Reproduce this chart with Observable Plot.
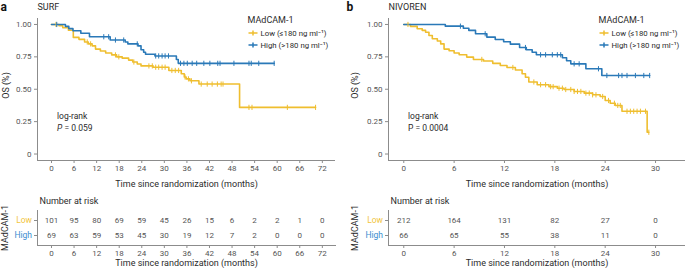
<!DOCTYPE html>
<html><head><meta charset="utf-8">
<script src="https://cdn.jsdelivr.net/npm/d3@7"></script>
<script src="https://cdn.jsdelivr.net/npm/@observablehq/plot@0.6"></script>
<style>
body{margin:0;background:#fff;}
#chart{position:relative;width:685px;height:271px;overflow:hidden;}
#chart svg{position:absolute;overflow:visible;}
</style></head><body><div id="chart"></div>
<script>
// ---------- SURF (panel a) ----------
const surfLowT = [0, 2.0, 3.0, 4.5, 5.8, 7.3, 8.8, 9.8, 10.8, 11.7, 13.0, 14.4, 16.0, 17.3, 18.8, 20.5, 21.6, 22.8, 23.8, 27.0, 31.2, 34.5, 35.3, 35.8, 36.8, 39.2, 50.0];
const surfLowS = [1, 0.99, 0.975, 0.955, 0.90, 0.885, 0.865, 0.85, 0.835, 0.81, 0.795, 0.78, 0.765, 0.75, 0.74, 0.725, 0.71, 0.695, 0.68, 0.67, 0.645, 0.62, 0.595, 0.58, 0.565, 0.54, 0.36];
const surfLowEnd = 70.2;
const surfLowCens = [1.2, 9.5, 10.4, 17.0, 17.9, 21.9, 25.9, 26.8, 27.7, 28.5, 29.4, 30.2, 32.0, 32.9, 33.8, 35.5, 36.4, 37.2, 39.8, 41.4, 42.7, 44.1, 45.1, 45.6, 52.5, 53.3, 62.7, 70.2];
const surfHighT = [0, 3.7, 4.6, 5.7, 7.8, 10.1, 15.6, 19.6, 20.3, 23.0, 23.8, 24.5, 25.0, 27.5, 33.2, 33.7];
const surfHighS = [1, 0.985, 0.968, 0.952, 0.932, 0.905, 0.88, 0.865, 0.85, 0.835, 0.805, 0.785, 0.77, 0.757, 0.73, 0.70];
const surfHighEnd = 59.2;
const surfHighCens = [1.4, 13.9, 15.2, 17.0, 19.2, 22.8, 27.7, 28.5, 29.4, 30.2, 31.1, 34.3, 35.2, 36.1, 37.4, 38.6, 40.5, 42.1, 44.2, 44.8, 48.5, 52.5, 53.1, 55.1, 59.2];
const surfTicks = [0, 6, 12, 18, 24, 30, 36, 42, 48, 54, 60, 66, 72];
const surfRiskLow = [101, 95, 80, 69, 59, 45, 26, 15, 6, 2, 2, 1, 0];
const surfRiskHigh = [69, 63, 59, 53, 45, 30, 19, 12, 7, 2, 0, 0, 0];

// ---------- NIVOREN (panel b) ----------
const nivLowT = [0, 0.8, 1.6, 2.2, 2.6, 3.0, 3.4, 4.0, 4.4, 4.8, 5.4, 6.0, 6.6, 7.5, 8.3, 9.5, 10.6, 11.5, 12.3, 13.3, 14.1, 14.5, 14.9, 15.9, 17.3, 18.3, 19.1, 20.3, 21.5, 22.5, 23.4, 24.0, 24.6, 25.2, 26.0, 29.0];
const nivLowS = [1, 0.985, 0.967, 0.954, 0.94, 0.915, 0.89, 0.872, 0.85, 0.81, 0.797, 0.78, 0.766, 0.748, 0.73, 0.718, 0.70, 0.683, 0.668, 0.648, 0.62, 0.593, 0.556, 0.535, 0.52, 0.508, 0.498, 0.483, 0.47, 0.457, 0.444, 0.413, 0.392, 0.375, 0.33, 0.168];
const nivLowEnd = 29.2;
const nivLowCens = [0.5, 9.3, 13.0, 15.5, 16.3, 16.9, 17.5, 17.8, 18.5, 18.9, 19.3, 19.9, 20.3, 20.7, 21.1, 21.7, 22.1, 22.5, 22.9, 23.7, 24.4, 25.1, 25.5, 25.8, 26.6, 27.0, 27.4, 27.8, 28.2, 28.8, 29.2];
const nivHighT = [0, 4.95, 7.1, 7.75, 8.55, 9.9, 10.9, 11.9, 12.7, 13.8, 14.6, 15.3, 15.8, 18.9, 19.4, 19.9, 21.7, 23.6];
const nivHighS = [1, 0.987, 0.971, 0.954, 0.928, 0.902, 0.884, 0.866, 0.848, 0.822, 0.805, 0.786, 0.766, 0.743, 0.72, 0.696, 0.658, 0.606];
const nivHighEnd = 29.3;
const nivHighCens = [6.75, 9.7, 14.5, 16.3, 16.9, 17.7, 18.3, 18.7, 20.3, 20.9, 23.2, 24.2, 25.6, 26.0, 26.6, 27.6, 28.6, 29.3];
const nivTicks = [0, 6, 12, 18, 24, 30];
const nivRiskLow = [212, 164, 131, 82, 27, 0];
const nivRiskHigh = [66, 65, 55, 38, 11, 0];

const yTicks = [0, 0.25, 0.5, 0.75, 1];
const groups = ["Low", "High"];
const legendLabels = ["Low (≤180 ng ml⁻¹)", "High (>180 ng ml⁻¹)"];

// ---------- style ----------
const FONT = "Roboto, Inter, 'Noto Sans', sans-serif";
const yellow = "#EFBE2F", blue = "#2A79B8";
const yellowText = "#F2C53D", blueText = "#3A8ED0";
const axisColor = "#8c8c8c", textColor = "#2b2b2b", tickText = "#555";

function stepAt(T, S, t) { let s = S[0]; for (let i = 0; i < T.length; i++) if (T[i] <= t) s = S[i]; return s; }
function curve(T, S, end) { const p = T.map((t, i) => ({t, s: S[i]})); p.push({t: end, s: S[S.length - 1]}); return p; }
function cens(T, S, C) { return C.map(t => ({t, s: stepAt(T, S, t)})); }

const censorSymbol = {draw(ctx, size) { const r = Math.sqrt(size / Math.PI); ctx.moveTo(0, -r); ctx.lineTo(0, r); }};
const legendSymbol = {draw(ctx) { ctx.moveTo(-4.5, 0); ctx.lineTo(4.5, 0); ctx.moveTo(0, -2.5); ctx.lineTo(0, 2.5); }};

const styleBase = {fontFamily: FONT, fontSize: "8px", color: textColor, background: "transparent", overflow: "visible"};

function kmPanel(o) {
  const yDomain = [-0.05, 1.046];
  const txt = (s, opt) => Plot.text([s], {text: d => d, frameAnchor: "top-left", textAnchor: "start", lineAnchor: "middle", fill: textColor, ...opt});
  return Plot.plot({
    width: o.width, height: 190, marginLeft: o.marginLeft, marginRight: o.marginRight, marginTop: 18, marginBottom: 30,
    style: styleBase,
    x: {domain: o.xDomain},
    y: {domain: yDomain},
    marks: [
      Plot.ruleX([o.xDomain[0]], {stroke: axisColor}),
      Plot.ruleY([yDomain[0]], {stroke: axisColor}),
      Plot.axisX({ticks: o.xTicks, tickSize: 3, tickPadding: 2, stroke: axisColor, fill: tickText, label: null, fontSize: 8}),
      Plot.axisY({ticks: yTicks, tickFormat: d => d === 0 ? "0" : d.toFixed(2), tickSize: 3, tickPadding: 3, stroke: axisColor, fill: tickText, label: null, fontSize: 8}),
      Plot.line(curve(o.lowT, o.lowS, o.lowEnd), {x: "t", y: "s", curve: "step-after", stroke: yellow, strokeWidth: 1.6}),
      Plot.line(curve(o.highT, o.highS, o.highEnd), {x: "t", y: "s", curve: "step-after", stroke: blue, strokeWidth: 1.6}),
      Plot.dot(cens(o.lowT, o.lowS, o.lowCens), {x: "t", y: "s", symbol: censorSymbol, r: 2.6, stroke: yellow, strokeWidth: 1}),
      Plot.dot(cens(o.highT, o.highS, o.highCens), {x: "t", y: "s", symbol: censorSymbol, r: 2.6, stroke: blue, strokeWidth: 1}),
      // panel letter + title
      txt(o.letter, {dx: o.letterDx, dy: -11, fontWeight: "bold", fontSize: 12, fill: "#111"}),
      txt(o.title, {dx: 0, dy: -11, fontSize: 9}),
      // legend
      txt("MAdCAM-1", {dx: 210, dy: 2, fontSize: 9}),
      Plot.dot([0], {frameAnchor: "top-left", dx: 215.5, dy: 14.5, symbol: legendSymbol, stroke: yellow, strokeWidth: 1.5}),
      Plot.dot([0], {frameAnchor: "top-left", dx: 215.5, dy: 26.5, symbol: legendSymbol, stroke: blue, strokeWidth: 1.5}),
      txt(legendLabels[0], {dx: 223, dy: 14.5, fontSize: 7.8}),
      txt(legendLabels[1], {dx: 223, dy: 26.5, fontSize: 7.8}),
      // log-rank
      txt("log-rank", {dx: 19.5, dy: 98, fontSize: 8.5}),
      txt("P", {dx: 19.5, dy: 110, fontSize: 8.5, fontStyle: o.pItalic ? "italic" : "normal"}),
      txt(o.pText, {dx: 27, dy: 110, fontSize: 8.5}),
      // axis titles
      Plot.text(["Time since randomization (months)"], {text: d => d, frameAnchor: "bottom", textAnchor: "middle", dy: 24, lineAnchor: "middle", fontSize: 9, fill: textColor}),
      Plot.text(["OS (%)"], {text: d => d, frameAnchor: "left", textAnchor: "middle", rotate: -90, dx: o.yTitleDx, dy: -4, lineAnchor: "middle", fontSize: 9, fill: textColor})
    ]
  });
}

function riskPanel(o) {
  const data = [
    ...o.times.map((t, i) => ({t, g: groups[0], n: o.low[i]})),
    ...o.times.map((t, i) => ({t, g: groups[1], n: o.high[i]}))
  ];
  return Plot.plot({
    width: o.width, height: 81, marginLeft: o.marginLeft, marginRight: o.marginRight, marginTop: 20, marginBottom: 26,
    style: styleBase,
    x: {domain: o.xDomain},
    y: {type: "point", domain: groups, padding: 0.6},
    marks: [
      Plot.ruleX([o.xDomain[0]], {stroke: axisColor}),
      Plot.frame({anchor: "bottom", stroke: axisColor}),
      Plot.axisX({ticks: o.times, tickSize: 3, tickPadding: 2, stroke: axisColor, fill: tickText, label: null, fontSize: 8}),
      Plot.axisY({tickSize: 3, tickFormat: () => "", stroke: axisColor, label: null}),
      Plot.text(data, {x: "t", y: "g", text: "n", fill: tickText, fontSize: 8}),
      Plot.text([groups[0]], {y: d => d, text: d => d, frameAnchor: "left", dx: -5.5, textAnchor: "end", fill: yellowText, fontSize: 8.5}),
      Plot.text([groups[1]], {y: d => d, text: d => d, frameAnchor: "left", dx: -5.5, textAnchor: "end", fill: blueText, fontSize: 8.5}),
      Plot.text(["Number at risk"], {text: d => d, frameAnchor: "top-left", dx: 2, dy: -9, textAnchor: "start", lineAnchor: "middle", fontSize: 9, fill: textColor}),
      Plot.text(["Time since randomization (months)"], {text: d => d, frameAnchor: "bottom", textAnchor: "middle", dy: 18, lineAnchor: "middle", fontSize: 9, fill: textColor}),
      Plot.text(["MAdCAM-1"], {text: d => d, frameAnchor: "left", textAnchor: "middle", rotate: -90, dx: o.yTitleDx, lineAnchor: "middle", fontSize: 9, fill: textColor})
    ]
  });
}

const surfDomain = [-3.72, 75.5];
const nivDomain = [-1.82, 33.57];

const panels = [
  {el: kmPanel({width: 345, marginLeft: 37, marginRight: 10, xDomain: surfDomain, xTicks: surfTicks,
     lowT: surfLowT, lowS: surfLowS, lowEnd: surfLowEnd, lowCens: surfLowCens,
     highT: surfHighT, highS: surfHighS, highEnd: surfHighEnd, highCens: surfHighCens,
     letter: "a", letterDx: -37, title: "SURF", pText: "= 0.059", pItalic: true, yTitleDx: -31}), left: 0, top: 0},
  {el: kmPanel({width: 340, marginLeft: 43, marginRight: 0, xDomain: nivDomain, xTicks: nivTicks,
     lowT: nivLowT, lowS: nivLowS, lowEnd: nivLowEnd, lowCens: nivLowCens,
     highT: nivHighT, highS: nivHighS, highEnd: nivHighEnd, highCens: nivHighCens,
     letter: "b", letterDx: -42, title: "NIVOREN", pText: "= 0.0004", pItalic: false, yTitleDx: -33}), left: 345, top: 0},
  {el: riskPanel({width: 345, marginLeft: 37, marginRight: 10, xDomain: surfDomain, times: surfTicks, low: surfRiskLow, high: surfRiskHigh, yTitleDx: -32}), left: 0, top: 190},
  {el: riskPanel({width: 340, marginLeft: 43, marginRight: 0, xDomain: nivDomain, times: nivTicks, low: nivRiskLow, high: nivRiskHigh, yTitleDx: -33}), left: 345, top: 190}
];
const chart = document.getElementById("chart");
for (const p of panels) {
  p.el.style.left = p.left + "px";
  p.el.style.top = p.top + "px";
  chart.appendChild(p.el);
}
</script></body></html>
